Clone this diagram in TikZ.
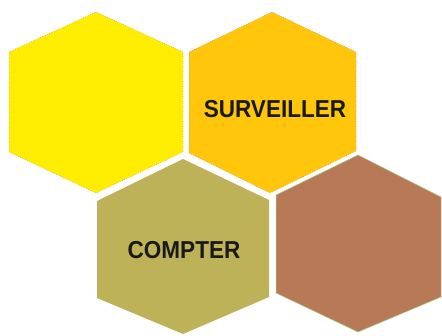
\documentclass[tikz,border=0pt]{standalone}
\usepackage{fontspec}
\setmainfont{Liberation Sans}
\definecolor{hexyellow}{HTML}{FFED00}
\definecolor{hexorange}{HTML}{FFC60B}
\definecolor{hexolive}{HTML}{BDB257}
\definecolor{hexbrown}{HTML}{B87956}
\definecolor{pinkline}{HTML}{C8708A}
\definecolor{greenline}{HTML}{A8D08D}
\begin{document}
\begin{tikzpicture}[x=1pt,y=-1pt,
  hexyel/.style={fill=hexyellow,draw=pinkline,line width=0.5pt,dotted},
  hexora/.style={fill=hexorange,draw=pinkline,line width=0.5pt,dotted},
  hexoli/.style={fill=hexolive,draw=none},
  hexbro/.style={fill=hexbrown,draw=greenline,line width=0.5pt},
  lbl/.style={font=\bfseries\fontsize{24.5}{26}\selectfont,text=black!90,inner sep=0pt,anchor=base,xscale=0.92}]
\useasboundingbox (0,0) rectangle (442,335);
\fill[white] (0,0) rectangle (442,335);
% yellow
\path[hexyel] (96,12) -- (183,52) -- (183,152) -- (96,193) -- (9,152) -- (9,52) -- cycle;
% orange
\path[hexora] (272,12) -- (356,52) -- (356,151) -- (270,193) -- (189,153) -- (189,52) -- cycle;
% olive
\path[hexoli] (183,159) -- (269,200) -- (269,297) -- (183,334) -- (97,298) -- (97,201) -- cycle;
% brown
\path[hexbro] (358,155) -- (441,197) -- (441,297) -- (358,332) -- (276,293) -- (276,195) -- cycle;
\node[lbl] (surv) at (275,117) {SURVEILLER};
\node[lbl] (comp) at (184,258.5) {COMPTER};
\end{tikzpicture}
\end{document}
